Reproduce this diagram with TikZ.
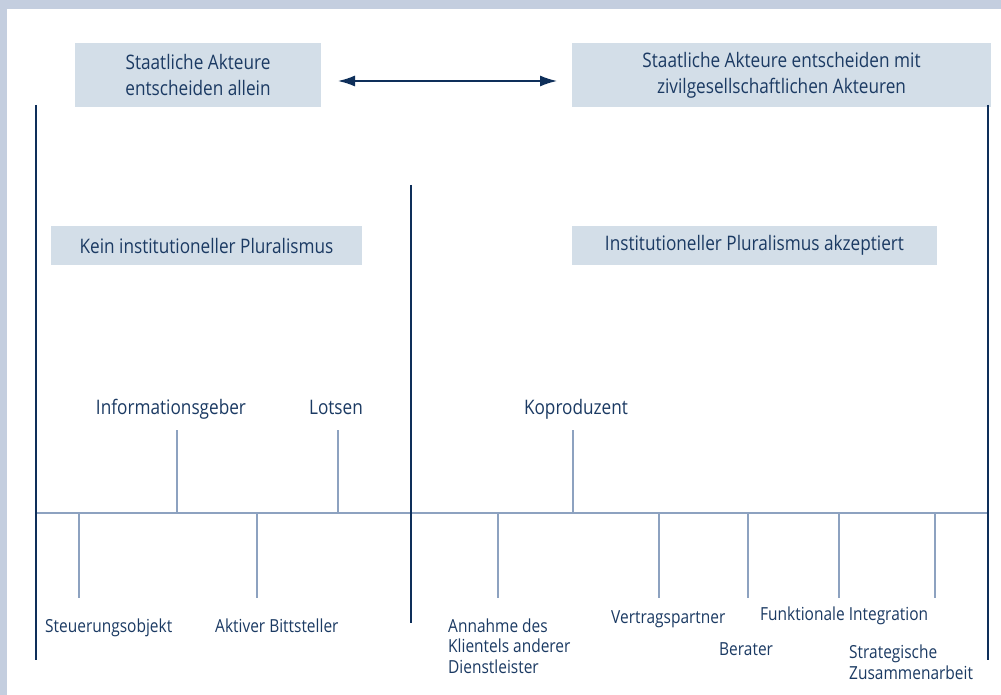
\documentclass[tikz,border=0pt]{standalone}
\usepackage{fontspec}
\setmainfont{Open Sans}[FakeStretch=0.86]
\usetikzlibrary{arrows.meta}
\definecolor{navy}{HTML}{0E2F5A}
\definecolor{txt}{HTML}{1B3A63}
\definecolor{boxfill}{HTML}{D3DEE8}
\definecolor{frame}{HTML}{C4CEDF}
\definecolor{axis}{HTML}{8DA2C0}
\tikzset{
  box/.style={fill=boxfill, text=txt, align=center, inner sep=0pt, font=\fontsize{20}{26}\selectfont},
  toplabel/.style={text=txt, inner sep=0pt, anchor=base, font=\fontsize{20}{26}\selectfont},
  botlabel/.style={text=txt, inner sep=0pt, anchor=base west, align=left, font=\fontsize{18}{20.5}\selectfont},
  bigline/.style={draw=navy, line width=2.8pt},
  axisline/.style={draw=axis, line width=2pt},
  twoarrow/.style={draw=navy, line width=1.5pt, {Latex[length=17pt,width=11pt]}-{Latex[length=17pt,width=11pt]}}
}
\begin{document}
\begin{tikzpicture}[x=1pt,y=-1pt]
\useasboundingbox (0,0) rectangle (1001,695);
\fill[white] (0,0) rectangle (1001,695);
\fill[frame] (0,0) rectangle (1001,9);
\fill[frame] (0,0) rectangle (7,695);
% boxes
\node[box, minimum width=246pt, minimum height=64pt] (b1) at (198,75) {Staatliche Akteure\\entscheiden allein};
\node[box, minimum width=419pt, minimum height=64pt] (b2) at (781.5,75) {Staatliche Akteure entscheiden mit\\zivilgesellschaftlichen Akteuren};
\node[box, minimum width=311pt, minimum height=39pt] (b3) at (206.5,245.5) {Kein institutioneller Pluralismus};
\node[box, minimum width=365pt, minimum height=38pt] (b4) at (754.5,245.5) {Institutioneller Pluralismus akzeptiert};
% arrow
\coordinate (al) at (338,81);
\coordinate (ar) at (557,81);
\draw[twoarrow] (al) -- (ar);
% big vertical lines
\coordinate (lt) at (36,105); \coordinate (lb) at (36,660);
\coordinate (rt) at (988,105); \coordinate (rb) at (988,660);
\coordinate (mt) at (411,185); \coordinate (mb) at (411,623);
% axis
\coordinate (ax0) at (36,513); \coordinate (ax1) at (988,513);
\draw[axisline] (ax0) -- (ax1);
% up ticks
\foreach \x [count=\i] in {177,338,573} {
  \coordinate (ut\i) at (\x,430);
  \coordinate (ub\i) at (\x,513);
  \draw[axisline] (ut\i) -- (ub\i);
}
% down ticks
\foreach \x [count=\i] in {79,257,498,659,748,839,935} {
  \coordinate (dt\i) at (\x,513);
  \coordinate (db\i) at (\x,598);
  \draw[axisline] (dt\i) -- (db\i);
}
\draw[bigline] (lt) -- (lb);
\draw[bigline] (rt) -- (rb);
\draw[bigline] (mt) -- (mb);
% top labels
\node[toplabel] (informationsgeber) at (171,414) {Informationsgeber};
\node[toplabel] (lotsen) at (336,414) {Lotsen};
\node[toplabel] (koproduzent) at (576,414) {Koproduzent};
% bottom labels
\node[botlabel] (steuerung) at (45,632) {Steuerungsobjekt};
\node[botlabel] (bittsteller) at (215,632) {Aktiver Bittsteller};
\node[botlabel] (annahme) at (448,673) {Annahme des\\Klientels anderer\\Dienstleister};
\node[botlabel] (vertrag) at (611,623) {Vertragspartner};
\node[botlabel] (berater) at (719,655) {Berater};
\node[botlabel] (funktional) at (760,620) {Funktionale Integration};
\node[botlabel] (strategisch) at (849,679) {Strategische\\Zusammenarbeit};
\end{tikzpicture}
\end{document}
